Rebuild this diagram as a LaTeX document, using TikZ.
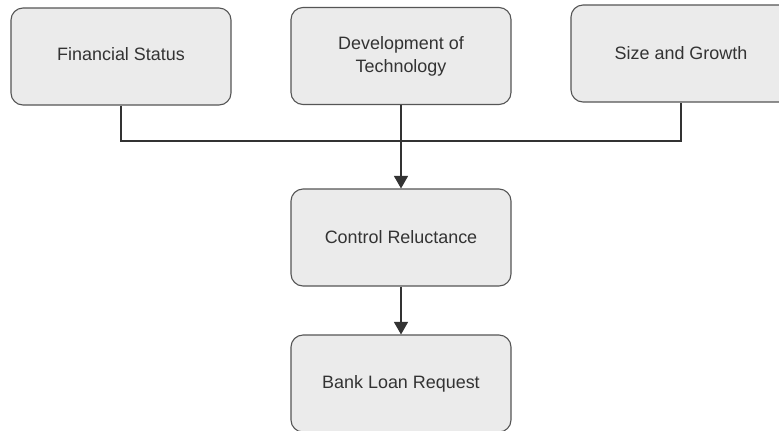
\documentclass[tikz,border=0pt]{standalone}
\usepackage{fontspec}
\setmainfont{Liberation Sans}
\usetikzlibrary{arrows.meta}
\definecolor{boxfill}{HTML}{EBEBEB}
\definecolor{boxline}{HTML}{555555}
\definecolor{wire}{HTML}{333333}
\definecolor{ink}{HTML}{333333}
\begin{document}
\begin{tikzpicture}[x=1bp,y=-1bp,
  block/.style={draw=boxline,fill=boxfill,line width=1.1bp,rounded corners=12bp,
    minimum width=220bp,minimum height=97bp,inner sep=0pt,align=center,
    text=ink,font=\fontsize{18}{23}\selectfont},
  wireline/.style={draw=wire,line width=1.1bp},
  arrowline/.style={wireline,-{Triangle[width=14bp,length=12.5bp]}}]
\useasboundingbox (0,0) rectangle (779,430);
\fill[white] (0,0) rectangle (779,430);

\node[block] (fin)  at (121,56.5) {\raisebox{5bp}{Financial Status}};
\node[block] (dev)  at (401,56)   {Development of\\Technology};
\node[block] (size) at (681,53.5) {Size and Growth};
\node[block] (ctrl) at (401,237.5) {Control Reluctance};
\node[block] (bank) at (401,383.5) {Bank Loan Request};

\coordinate (joinL) at (fin.south |- 0,141);
\coordinate (joinR) at (size.south |- 0,141);

\draw[wireline] (fin.south) -- (joinL) -- (joinR) -- (size.south);
\draw[arrowline] (dev.south) -- (ctrl.north);
\draw[arrowline] (ctrl.south) -- (bank.north);
\end{tikzpicture}
\end{document}
